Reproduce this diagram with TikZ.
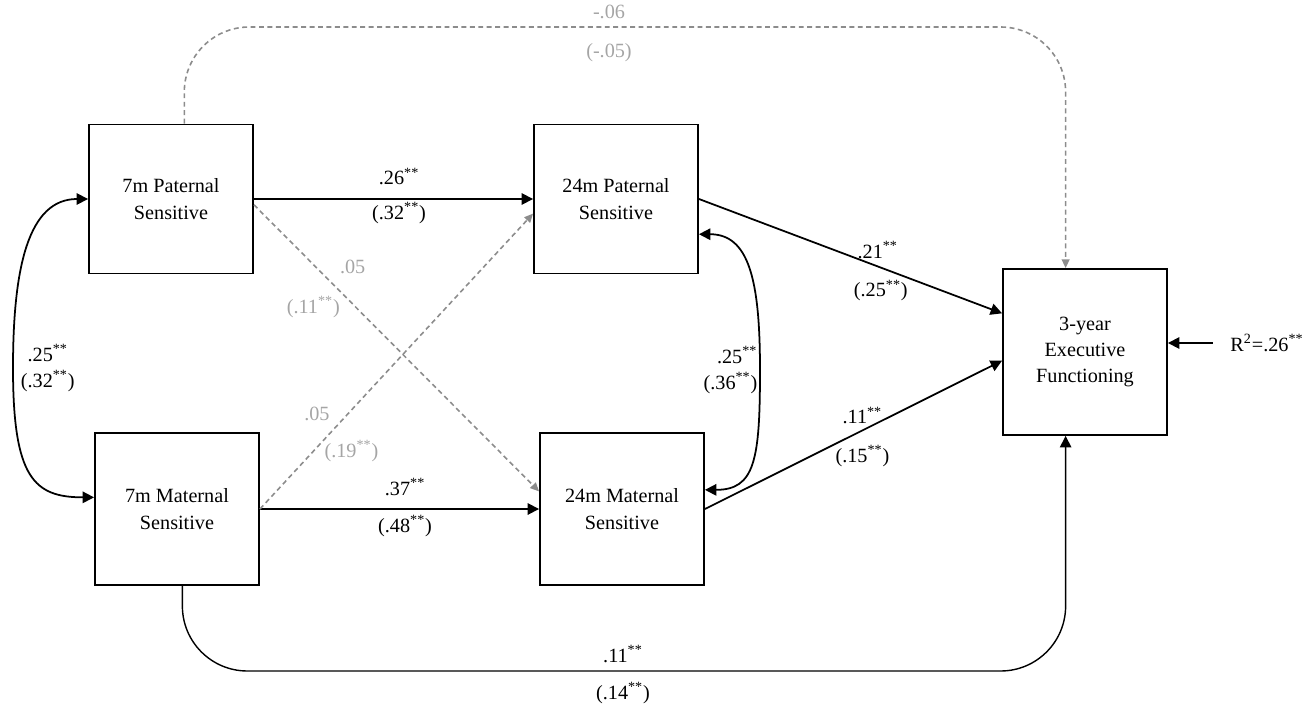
\documentclass[tikz,border=0pt]{standalone}
\usepackage{fontspec}
\setmainfont{Liberation Serif}
\usepackage{tikz}
\usetikzlibrary{arrows.meta, positioning}
\usepackage{xcolor}
\definecolor{nsgray}{RGB}{140, 140, 140}
\definecolor{nstext}{RGB}{165, 165, 165}
\newcommand{\sig}{\textsuperscript{**}}

\begin{document}
\begin{tikzpicture}[x=0.02cm, y=-0.02cm, >={Triangle[length=6.5pt, width=6.5pt]},
    font=\fontsize{11.5}{15}\selectfont,
    var/.style={draw, line width=1.1pt, minimum width=3.28cm, minimum height=2.98cm, align=center, inner sep=2pt},
    effect/.style={->, line width=1pt},
    nseffect/.style={-{Triangle[length=5pt, width=4.5pt]}, nsgray, line width=0.9pt, dash pattern=on 2.8pt off 2pt},
    cov/.style={<->, line width=1pt},
    coef/.style={inner sep=1pt, align=center},
    nscoef/.style={coef, text=nstext}]
    \useasboundingbox (0,0) rectangle (1316,706);

    \node[var] (P7)  at (171,199) {7m Paternal\\Sensitive};
    \node[var] (P24) at (616,199) {24m Paternal\\Sensitive};
    \node[var, minimum height=3.04cm] (M7)  at (177,509) {7m Maternal\\Sensitive};
    \node[var, minimum height=3.04cm] (M24) at (622,509) {24m Maternal\\Sensitive};
    \node[var, minimum height=3.32cm] (EF) at (1085,352) {3-year\\Executive\\Functioning};
    \node[coef] (R2) at (1267,343) {R\textsuperscript{2}=.26\sig};

    \coordinate (covL) at (13,368);
    \coordinate (covR) at (760,370);
    \coordinate (topline) at (609,27);
    \coordinate (botline) at (623,671);

    % stability
    \draw[effect] (P7.east) -- (P24.west)
        node[coef, pos=0.52, above=6.5pt] {.26\sig}
        node[coef, pos=0.52, below=0.5pt] {(.32\sig)};
    \draw[effect] (M7.east) -- (M24.west)
        node[coef, pos=0.52, above=6pt] {.37\sig}
        node[coef, pos=0.52, below=2pt] {(.48\sig)};

    % cross-lagged
    \draw[nseffect] (P7.-4) -- (M24.168)
        node[nscoef, pos=0.25, anchor=south west, xshift=7pt] {.05}
        node[nscoef, pos=0.31, anchor=north east] {(.11\sig)};
    \draw[nseffect] (M7.east) -- (P24.190)
        node[nscoef, pos=0.29, anchor=south east, xshift=-4pt] {.05}
        node[nscoef, pos=0.24, anchor=north west, xshift=-2pt] {(.19\sig)};

    % to executive functioning
    \draw[effect] (P24.east) -- (EF.155)
        node[coef, pos=0.59, anchor=south, yshift=3pt] {.21\sig}
        node[coef, pos=0.6, anchor=north, yshift=-5.5pt] {(.25\sig)};
    \draw[effect] (M24.east) -- (EF.186)
        node[coef, pos=0.53, anchor=south, yshift=2pt] {.11\sig}
        node[coef, pos=0.53, anchor=north, yshift=-7pt] {(.15\sig)};

    % covariances
    \draw[cov] (P7.west) .. controls +(-60,0) and +(0,-100) .. (covL)
        node[coef, right=3pt] {.25\sig\\(.32\sig)}
        .. controls +(0,110) and +(-60,0) .. (M7.172);
    \draw[cov] (P24.-23) .. controls +(50,0) and +(0,-90) .. (covR)
        node[coef, left=0pt, align=right] {.25\sig\\(.36\sig)}
        .. controls +(0,90) and +(50,0) .. (M24.13);

    % direct effects
    \draw[nseffect, rounded corners=1.3cm] (P7.80) |- (topline)
        node[nscoef, above=3pt] {-.06} node[nscoef, below=8pt] {(-.05)} -| (EF.103);
    \draw[effect, line width=0.8pt, rounded corners=1.3cm] (M7.-86) |- (botline)
        node[coef, above=3.4pt] {.11\sig} node[coef, below=5pt] {(.14\sig)} -| (EF.-103);

    \draw[effect, shorten <=9pt] (R2.west) -- (R2.west -| EF.east);
\end{tikzpicture}
\end{document}
